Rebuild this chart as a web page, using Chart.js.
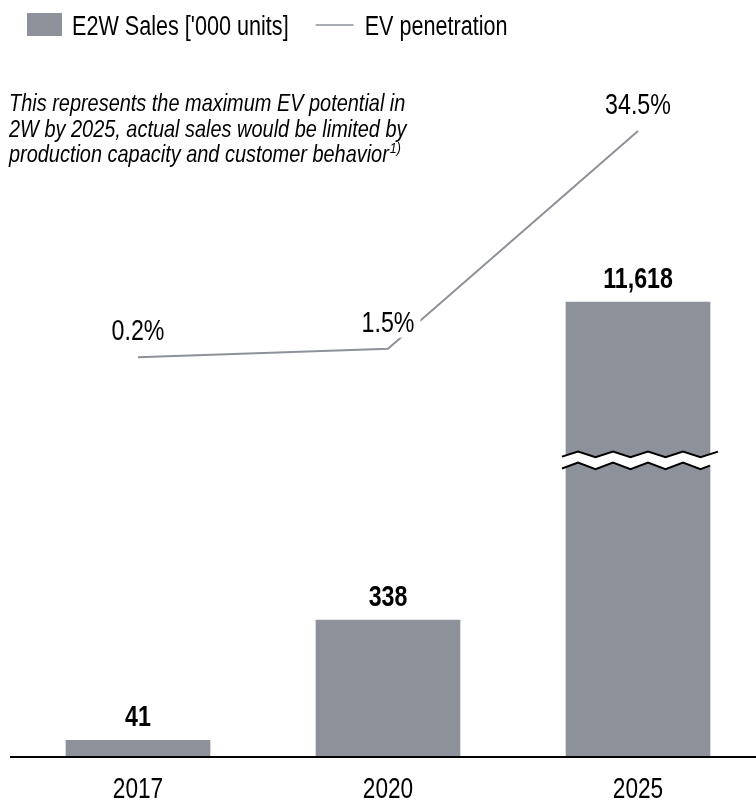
<!DOCTYPE html>
<html>
<head>
<meta charset="utf-8">
<script src="https://cdn.jsdelivr.net/npm/chart.js@4/dist/chart.umd.min.js"></script>
<style>
html,body{margin:0;padding:0;background:#fff;}
#wrap{width:756px;height:802px;position:relative;}
</style>
</head>
<body>
<div id="wrap"><canvas id="c" width="756" height="802"></canvas></div>
<script>
// ---- data ----
const categories = ['2017', '2020', '2025'];
const salesValues = [41, 338, 11618];            // E2W Sales ['000 units]
const salesLabels = ['41', '338', '11,618'];
const penetration = [0.2, 1.5, 34.5];            // EV penetration, %
const penetrationLabels = ['0.2%', '1.5%', '34.5%'];
const seriesNames = ["E2W Sales ['000 units]", 'EV penetration'];
const noteLines = [
  'This represents the maximum EV potential in',
  '2W by 2025, actual sales would be limited by',
  'production capacity and customer behavior'
];
const noteSup = '1)';
// axis break on the sales axis (values between these are cut out)
const BREAK_LOW = 733;
const BREAK_HIGH = 11228;

// ---- styles ----
const GRAY = '#8d9199';
const FONT = '"Liberation Sans", Arial, sans-serif';
const NARROW = 0.8; // horizontal condensing to mimic Arial Narrow

class BrokenLinearScale extends Chart.LinearScale {
  toDisplay(v) {
    if (v <= BREAK_LOW) return v;
    if (v >= BREAK_HIGH) return BREAK_LOW + (v - BREAK_HIGH);
    return BREAK_LOW;
  }
  getPixelForValue(v) { return super.getPixelForValue(this.toDisplay(v)); }
}
BrokenLinearScale.id = 'brokenLinear';
BrokenLinearScale.defaults = Chart.LinearScale.defaults;
Chart.register(BrokenLinearScale);

function drawText(ctx, text, x, y, font, k, align, baseline) {
  ctx.save();
  ctx.font = font;
  ctx.textAlign = align || 'left';
  ctx.textBaseline = baseline || 'alphabetic';
  ctx.translate(x, y);
  ctx.scale(k, 1);
  ctx.fillText(text, 0, 0);
  const w = ctx.measureText(text).width * k;
  ctx.restore();
  return w;
}
function textWidth(ctx, text, font, k) {
  ctx.save(); ctx.font = font;
  const w = ctx.measureText(text).width * k;
  ctx.restore();
  return w;
}

const decorPlugin = {
  id: 'decor',
  afterDatasetsDraw(chart) {
    const ctx = chart.ctx;
    const area = chart.chartArea;
    const barMeta = chart.getDatasetMeta(0);
    const lineMeta = chart.getDatasetMeta(1);
    const yS = chart.scales.y;
    const xS = chart.scales.x;
    ctx.save();
    // axis break zigzag on the tallest bar
    const bi = salesValues.findIndex(v => v >= BREAK_HIGH);
    if (bi >= 0) {
      const bar = barMeta.data[bi];
      const yc = yS.getPixelForValue(BREAK_LOW);
      const left = bar.x - bar.width / 2, right = bar.x + bar.width / 2;
      const half = 17.5;
      const mk = (x0, x1, yUp, yDown) => {
        const pts = [];
        const f = x => {
          // piecewise zigzag: up vertices at left+12+2k*half
          const t = (x - (left + 12)) / half;
          const n = Math.floor(t);
          const fr = t - n;
          const a = (((n % 2) + 2) % 2 === 0) ? yUp : yDown;
          const b = a === yUp ? yDown : yUp;
          return a + (b - a) * fr;
        };
        pts.push([x0, f(x0)]);
        for (let x = left + 12 - 2 * half; x < x1; x += half) {
          if (x > x0) pts.push([x, f(x)]);
        }
        pts.push([x1, f(x1)]);
        return pts;
      };
      const up = mk(left - 4, right + 8, yc - 8.5, yc - 3);
      const lo = mk(left - 4, right, yc + 2.5, yc + 9);
      ctx.beginPath();
      up.forEach((p, i) => i ? ctx.lineTo(p[0], p[1]) : ctx.moveTo(p[0], p[1]));
      for (let i = lo.length - 1; i >= 0; i--) ctx.lineTo(lo[i][0], lo[i][1]);
      ctx.closePath();
      ctx.fillStyle = '#fff';
      ctx.fill();
      ctx.strokeStyle = '#000';
      ctx.lineWidth = 2;
      ctx.lineJoin = 'miter';
      [up, lo].forEach(pts => {
        ctx.beginPath();
        pts.forEach((p, i) => i ? ctx.lineTo(p[0], p[1]) : ctx.moveTo(p[0], p[1]));
        ctx.stroke();
      });
    }
    // axis line
    ctx.beginPath();
    ctx.moveTo(10, area.bottom);
    ctx.lineTo(756, area.bottom);
    ctx.strokeStyle = '#000';
    ctx.lineWidth = 2;
    ctx.stroke();
    ctx.fillStyle = '#000';
    // category labels
    categories.forEach((c, i) => {
      drawText(ctx, c, xS.getPixelForValue(i), area.bottom + 41, '29px ' + FONT, 0.78, 'center');
    });
    // bar value labels
    barMeta.data.forEach((b, i) => {
      drawText(ctx, salesLabels[i], b.x, b.y - 14, 'bold 29px ' + FONT, NARROW, 'center');
    });
    // line value labels with white backing
    lineMeta.data.forEach((p, i) => {
      const t = penetrationLabels[i];
      const f = '29px ' + FONT;
      const w = textWidth(ctx, t, f, NARROW);
      const base = p.y - 17;
      ctx.fillStyle = '#fff';
      ctx.fillRect(p.x - w / 2 - 6, base - 27, w + 12, 33);
      ctx.fillStyle = '#000';
      drawText(ctx, t, p.x, base, f, NARROW, 'center');
    });
    ctx.restore();
  },
  afterDraw(chart) {
    const ctx = chart.ctx;
    ctx.save();
    // legend
    ctx.fillStyle = GRAY;
    ctx.fillRect(27, 13, 35, 23);
    ctx.fillStyle = '#000';
    const lf = '27px ' + FONT;
    const w0 = drawText(ctx, seriesNames[0], 72, 35, lf, NARROW, 'left');
    const lx = 72 + w0 + 27;
    ctx.beginPath();
    ctx.moveTo(lx, 25); ctx.lineTo(lx + 38, 25);
    ctx.strokeStyle = GRAY; ctx.lineWidth = 1.5; ctx.stroke();
    drawText(ctx, seriesNames[1], lx + 49, 35, lf, NARROW, 'left');
    // note
    const nf = 'italic 24px ' + FONT;
    let y = 111;
    noteLines.forEach((t, i) => {
      const w = drawText(ctx, t, 9, y, nf, 0.83, 'left');
      if (i === noteLines.length - 1) {
        drawText(ctx, noteSup, 9 + w + 1, y - 9, 'italic 15px ' + FONT, 0.83, 'left');
      }
      y += 25.5;
    });
    ctx.restore();
  }
};

new Chart(document.getElementById('c'), {
  type: 'bar',
  data: {
    labels: categories,
    datasets: [
      {
        type: 'bar', label: seriesNames[0], data: salesValues, yAxisID: 'y',
        backgroundColor: GRAY, barThickness: 144, clip: false, order: 2
      },
      {
        type: 'line', label: seriesNames[1], data: penetration, yAxisID: 'y2',
        borderColor: GRAY, borderWidth: 2, pointRadius: 0, tension: 0, clip: false, order: 1
      }
    ]
  },
  plugins: [decorPlugin],
  options: {
    responsive: false,
    animation: false,
    devicePixelRatio: 1,
    layout: { padding: { left: 138, right: 118, top: 100, bottom: 45 } },
    plugins: { legend: { display: false }, tooltip: { enabled: false } },
    scales: {
      x: { type: 'category', offset: false, display: false },
      y: { type: 'brokenLinear', min: 0, max: 1622, display: false },
      y2: { type: 'linear', min: -60.4, max: 39.2, display: false }
    }
  }
});
</script>
</body>
</html>
